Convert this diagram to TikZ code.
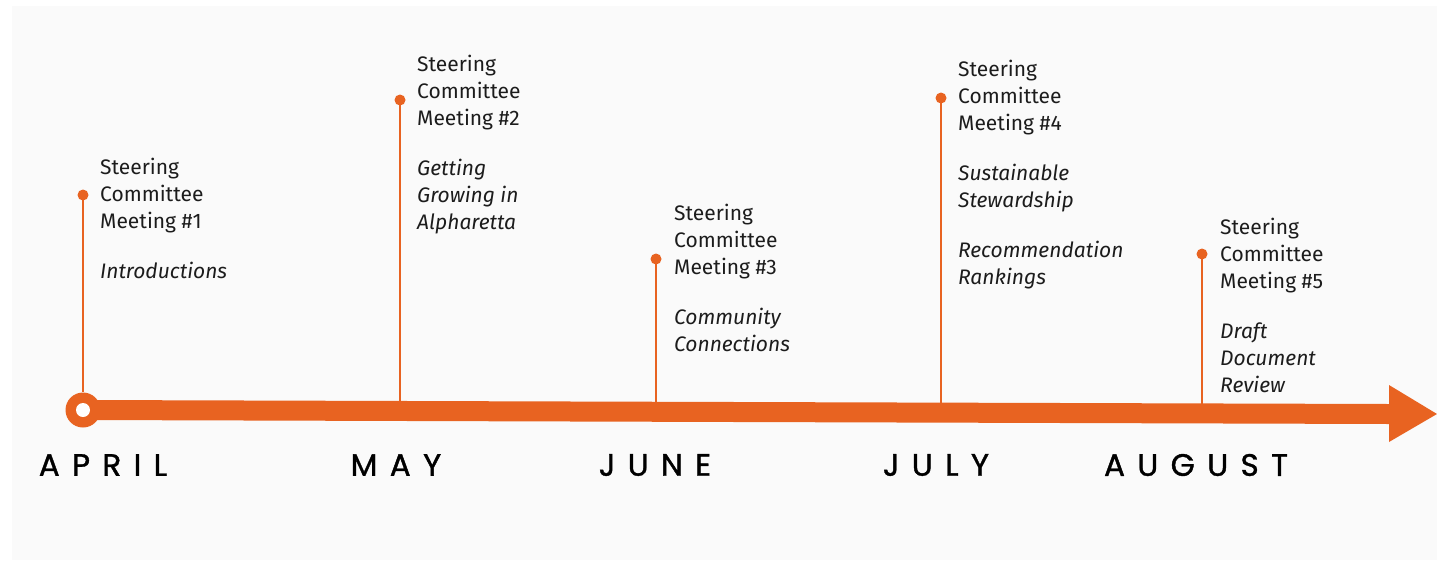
\documentclass[tikz,border=0pt]{standalone}
\usepackage{fontspec}
\setmainfont{Fira Sans}
\newfontfamily\monthfont[LetterSpace=40, FakeBold=1.2]{Poppins}
\usetikzlibrary{positioning}
\definecolor{tlorange}{RGB}{232,99,33}
\definecolor{tlback}{RGB}{250,250,250}
\definecolor{tltext}{RGB}{28,28,28}
\tikzset{
    meettext/.style={anchor=north west, align=left, inner sep=0pt, text=tltext, font=\fontsize{21}{27}\selectfont},
    monthtext/.style={inner sep=0pt, text=black, font=\monthfont\fontsize{31}{31}\selectfont},
    stem/.style={draw=tlorange, line width=1.6pt},
    stemdot/.style={circle, fill=tlorange, inner sep=0pt, minimum size=11pt}
}

\begin{document}
\begin{tikzpicture}[x=1pt, y=-1pt]
    \useasboundingbox (0,0) rectangle (1437,560);
    \fill[tlback] (12,6) rectangle (1437,560);
    % timeline arrow
    \fill[tlorange] (83,400) -- (1389,404) -- (1389,385) -- (1437,414)
        -- (1389,442) -- (1389,424) -- (83,420) -- cycle;
    \node[circle, fill=tlorange, inner sep=0pt, minimum size=35pt] (start) at (83,410) {};
    \node[circle, fill=white, inner sep=0pt, minimum size=14pt] (hole) at (start) {};
    % months
    \node[monthtext] (apr) at (103,465) {APRIL};
    \node[monthtext] (may) at (396,465) {MAY};
    \node[monthtext] (jun) at (655,465) {JUNE};
    \node[monthtext] (jul) at (936,465) {JULY};
    \node[monthtext] (aug) at (1196,465) {AUGUST};
    % meetings
    \coordinate (b2) at (400,412);
    \coordinate (b3) at (656,412);
    \coordinate (b4) at (941,413);
    \coordinate (b5) at (1202,414);
    \node[stemdot] (d1) at (83,195) {};
    \node[stemdot] (d2) at (400,100) {};
    \node[stemdot] (d3) at (656,259) {};
    \node[stemdot] (d4) at (941,98) {};
    \node[stemdot] (d5) at (1202,254) {};
    \draw[stem] (d1.center) -- (start.north);
    \draw[stem] (d2.center) -- (b2);
    \draw[stem] (d3.center) -- (b3);
    \draw[stem] (d4.center) -- (b4);
    \draw[stem] (d5.center) -- (b5);
    \node[meettext] (m1) at (100,158) {Steering\\Committee\\Meeting \#1\\[23pt]\textit{Introductions}};
    \node[meettext] (m2) at (417,55) {Steering\\Committee\\Meeting \#2\\[23pt]\textit{Getting}\\\textit{Growing in}\\\textit{Alpharetta}};
    \node[meettext] (m3) at (674,204) {Steering\\Committee\\Meeting \#3\\[23pt]\textit{Community}\\\textit{Connections}};
    \node[meettext] (m4) at (958,60) {Steering\\Committee\\Meeting \#4\\[23pt]\textit{Sustainable}\\\textit{Stewardship}\\[23pt]\textit{Recommendation}\\\textit{Rankings}};
    \node[meettext] (m5) at (1220,218) {Steering\\Committee\\Meeting \#5\\[23pt]\textit{Draft}\\\textit{Document}\\\textit{Review}};
\end{tikzpicture}
\end{document}
